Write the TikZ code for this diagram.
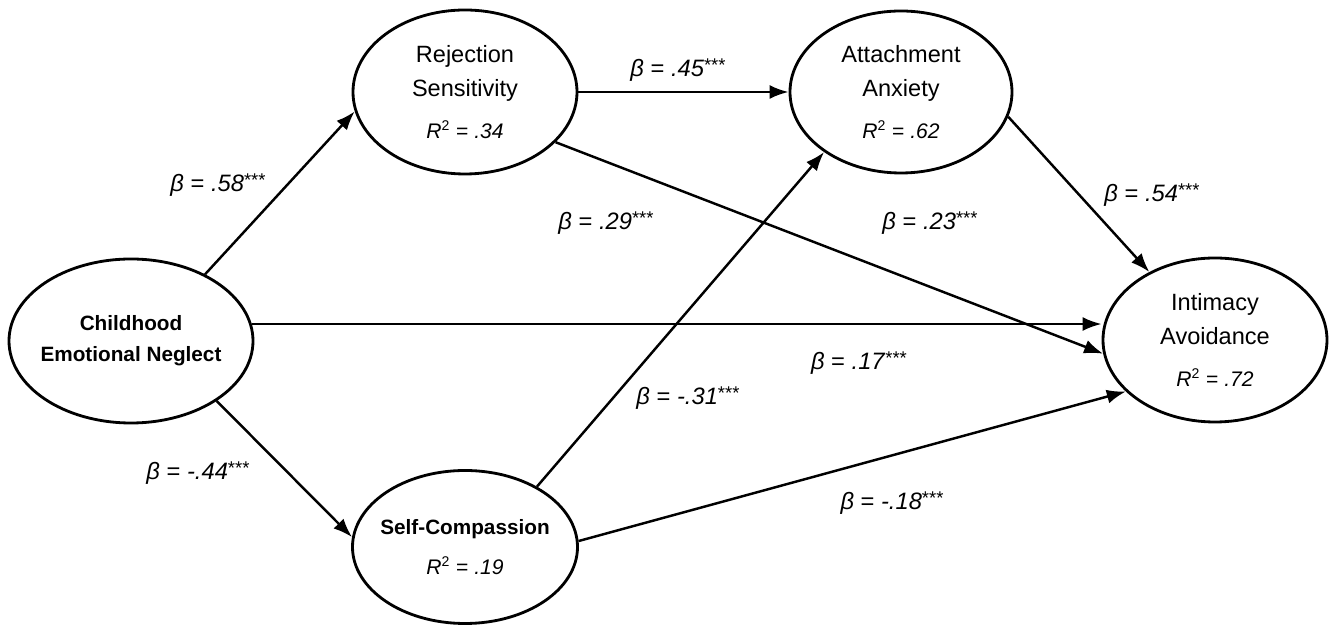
\documentclass[tikz,border=0pt]{standalone}
\usepackage{fontspec}
\setmainfont{Liberation Sans}
\usetikzlibrary{arrows.meta,shapes.geometric}
\colorlet{ink}{black}
\tikzset{
  >={Latex[length=3.8mm,width=2.8mm]},
  arrow/.style={-{Latex[length=3.8mm,width=2.8mm]}, draw=ink, line width=1.4pt},
  latent/.style={
    ellipse,
    draw=ink,
    fill=white,
    line width=1.6pt,
    inner xsep=-14pt,
    inner ysep=0pt,
    minimum width=4.48cm,
    minimum height=3.28cm,
    align=center,
    text=ink,
    font=\fontsize{13.4}{19}\selectfont
  },
  boldlatent/.style={latent, font=\fontsize{11.8}{17.5}\selectfont\bfseries},
  coef/.style={font=\fontsize{13.5}{16}\selectfont, text=ink}
}
\newcommand{\coefval}[1]{\textit{β} = \textit{#1}\raisebox{0.35ex}{\fontsize{10.5}{10.5}\selectfont***}}
\newcommand{\rsq}[1]{{\fontsize{12}{14}\selectfont\mdseries\textit{R}\textsuperscript{2} = \textit{#1}}}

\begin{document}
\begin{tikzpicture}[x=1cm,y=1cm]
  \useasboundingbox (0,0) rectangle (26.66,12.5);

  \node[boldlatent, minimum width=4.88cm] (cen) at (2.62,5.68) {Childhood\\Emotional Neglect};
  \node[latent] (rs) at (9.30,10.66) {Rejection\\Sensitivity\\[5pt]\rsq{.34}};
  \node[latent, minimum width=4.44cm, minimum height=3.24cm] (aa) at (18.02,10.66) {Attachment\\Anxiety\\[5pt]\rsq{.62}};
  \node[latent] (ia) at (24.30,5.70) {Intimacy\\Avoidance\\[5pt]\rsq{.72}};
  \node[boldlatent, minimum width=4.50cm, minimum height=3.06cm] (sc) at (9.30,1.56) {Self-Compassion\\[5pt]\rsq{.19}};

  \draw[arrow] (cen.42) -- (rs.190);
  \draw[arrow] (cen.-35) -- (sc.175);
  \draw[arrow] (cen.8) -- (cen.8 -| ia.west);
  \draw[arrow] (rs.east) -- (aa.west);
  \draw[arrow] (rs.-29) -- (ia.187);
  \draw[arrow] (sc.40) -- (aa.218);
  \draw[arrow] (sc.3) -- (ia.210);
  \draw[arrow] (aa.-13) -- (ia.134);

  \node[coef] (b58) at (4.36,8.80) {\coefval{.58}};
  \node[coef] (b45) at (13.56,11.10) {\coefval{.45}};
  \node[coef] (b29) at (12.12,8.04) {\coefval{.29}};
  \node[coef] (b23) at (18.60,8.04) {\coefval{.23}};
  \node[coef] (b54) at (23.04,8.60) {\coefval{.54}};
  \node[coef] (b17) at (17.18,5.24) {\coefval{.17}};
  \node[coef] (b31) at (13.76,4.54) {\coefval{-.31}};
  \node[coef] (b44) at (3.96,3.04) {\coefval{-.44}};
  \node[coef] (b18) at (17.84,2.44) {\coefval{-.18}};
\end{tikzpicture}
\end{document}
